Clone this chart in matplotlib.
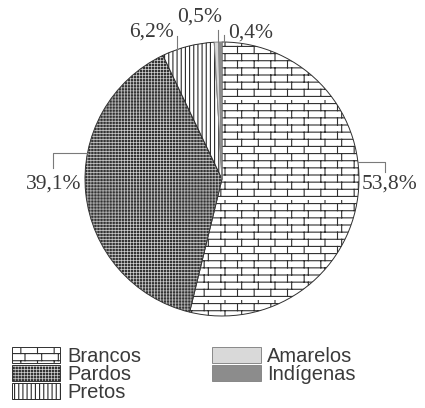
import warnings
import numpy as np
import matplotlib
matplotlib.use("Agg")
import matplotlib.pyplot as plt
from matplotlib import hatch as mhatch
from matplotlib.path import Path

# data
groups = ["Brancos", "Pardos", "Pretos", "Amarelos", "Indígenas"]
shares = [53.8, 39.1, 6.2, 0.5, 0.4]


# brick pattern ('b') and dot grid ('d') hatches
class BrickHatch(mhatch.HatchPatternBase):
    def __init__(self, hatch, density):
        self.rows = 14 if "b" in hatch else 0
        self.cols = 6
        self.num_vertices = 2 * (self.rows + self.rows * self.cols)

    def set_vertices_and_codes(self, vertices, codes):
        h = 1.0 / self.rows
        k = 0
        for i in range(self.rows):
            y = i * h + h / 2
            vertices[k] = (0, y)
            vertices[k + 1] = (1, y)
            k += 2
            off = 0.5 / self.cols if i % 2 else 0.25 / self.cols
            for j in range(self.cols):
                x = j / self.cols + off
                vertices[k] = (x, y)
                vertices[k + 1] = (x, y + h)
                k += 2
        codes[0::2] = Path.MOVETO
        codes[1::2] = Path.LINETO


class DotGridHatch(mhatch.HatchPatternBase):
    def __init__(self, hatch, density):
        self.n = 33 if "d" in hatch else 0
        self.num_vertices = 5 * self.n * self.n

    def set_vertices_and_codes(self, vertices, codes):
        step = 1.0 / self.n
        s = 0.45 * step
        k = 0
        for i in range(self.n):
            for j in range(self.n):
                x0 = j * step + step / 2 - s / 2
                y0 = i * step + step / 2 - s / 2
                vertices[k:k + 5] = [(x0, y0), (x0 + s, y0), (x0 + s, y0 + s),
                                     (x0, y0 + s), (x0, y0)]
                codes[k] = Path.MOVETO
                codes[k + 1:k + 4] = Path.LINETO
                codes[k + 4] = Path.CLOSEPOLY
                k += 5


mhatch._hatch_types.append(BrickHatch)
mhatch._hatch_types.append(DotGridHatch)
plt.rcParams["hatch.linewidth"] = 0.8

hatches = ["b", "d", "||||", None, None]
fills = ["white", "white", "white", "#d9d9d9", "#8c8c8c"]
edges = ["#303030", "#333333", "#2a2a2a", "#888888", "#888888"]

fig = plt.figure(figsize=(4.25, 4.08), dpi=100)
ax = fig.add_axes([85 / 425, 92 / 408, 274 / 425, 274 / 408])

wedges, _ = ax.pie(shares, startangle=90, counterclock=False, colors=fills,
                   wedgeprops=dict(linewidth=0.7))
with warnings.catch_warnings():
    warnings.simplefilter("ignore")
    for w, h, ec in zip(wedges, hatches, edges):
        w.set_edgecolor(ec)
        if h:
            w.set_hatch(h)

ax.set_xlim(-1, 1)
ax.set_ylim(-1, 1)
ax.set_aspect("auto")
ax.axis("off")

# labels with leader lines: (edge angle, elbow dx, elbow dy, text x, text y, ha)
labels = [f"{v:.1f}%".replace(".", ",") for v in shares]
leaders = [
    (7, 0.20, -0.07, 1.02, -0.04, "left"),
    (169, -0.25, -0.11, -1.03, -0.04, "right"),
    (109, 0.0, 0.10, -0.35, 1.07, "right"),
    (91.5, 0.0, 0.09, 0.0, 1.18, "right"),
    (89, 0.0, 0.05, 0.045, 1.065, "left"),
]
for lab, (ang, dx, dy, tx, ty, ha) in zip(labels, leaders):
    ex, ey = np.cos(np.radians(ang)), np.sin(np.radians(ang))
    xs = [ex, ex + dx, ex + dx]
    ys = [ey, ey, ey + dy]
    ax.plot(xs, ys, color="#7a7a7a", lw=0.8, clip_on=False)
    ax.text(tx, ty, lab, ha=ha, va="center", fontsize=15.5,
            family="Liberation Serif", color="#3a3a3a", clip_on=False)

fig.legend(wedges, groups, ncol=2, loc="upper left",
           bbox_to_anchor=(12 / 425, 1 - 347 / 408),
           frameon=False, prop={"family": "Liberation Sans", "size": 14.5},
           handlelength=2.4, handleheight=0.8, handletextpad=0.33,
           labelspacing=-0.05, columnspacing=3.55, borderpad=0, borderaxespad=0,
           labelcolor="#3a3a3a")

fig.savefig("out.png", dpi=100, facecolor="white")
